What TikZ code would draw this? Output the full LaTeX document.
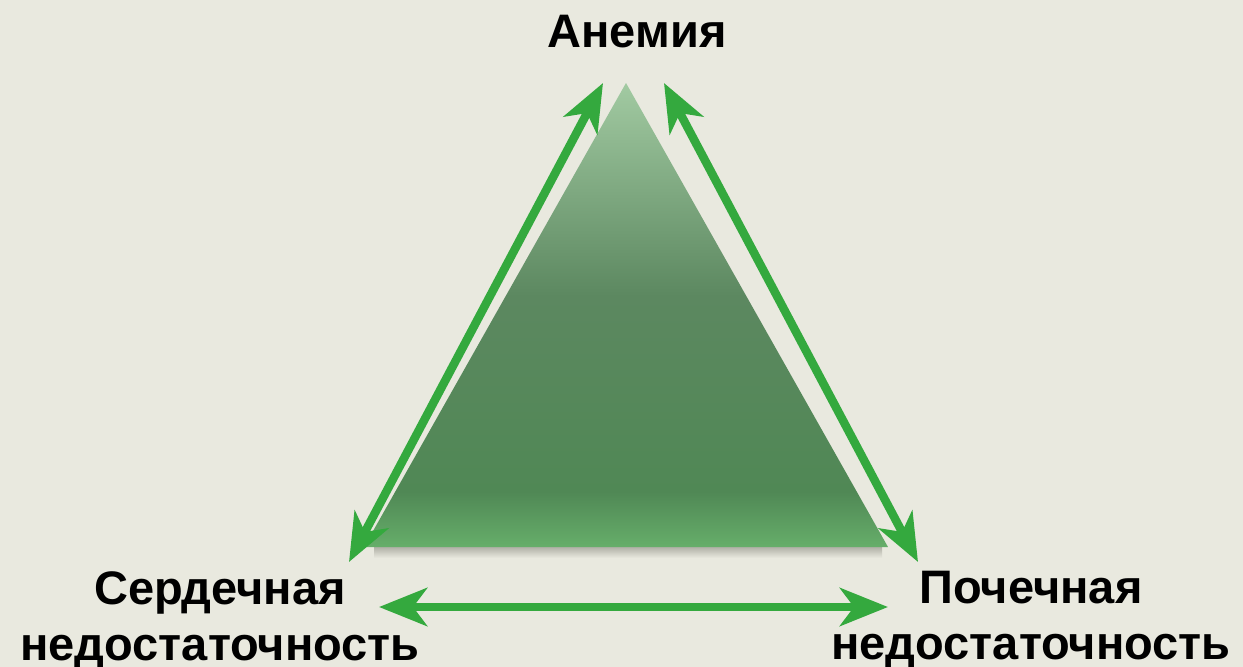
\documentclass[tikz,border=0pt]{standalone}
\usepackage{fontspec}
\setmainfont{Liberation Sans}
\usepackage{tikz}
\usetikzlibrary{arrows.meta, positioning}

\definecolor{bgcol}{RGB}{233,233,223}
\definecolor{arrgreen}{RGB}{52,169,62}
\definecolor{trilow}{RGB}{102,174,106}
\definecolor{trimid}{RGB}{80,136,85}
\definecolor{trimidtop}{RGB}{92,136,96}
\definecolor{trihigh}{RGB}{162,202,162}
\definecolor{shadowcol}{RGB}{172,172,162}

\pgfdeclareverticalshading{trishade}{100bp}{color(0bp)=(trilow); color(25bp)=(trilow); color(31bp)=(trimid); color(52bp)=(trimidtop); color(75bp)=(trihigh); color(100bp)=(trihigh)}

\begin{document}
\begin{tikzpicture}[
        x=1pt, y=-1pt,
        label/.style={font=\fontsize{47}{56}\selectfont\bfseries, text=black, align=center, inner sep=0pt},
        link/.style={{Stealth[length=48pt, width=38pt, inset=14pt]}-{Stealth[length=48pt, width=38pt, inset=14pt]}, line width=8.5pt, arrgreen}
    ]
    % --- Background ---
    \fill[bgcol] (0,0) rectangle (1243,667);
    \useasboundingbox (0,0) rectangle (1243,667);

    % --- Triangle ---
    \coordinate (top) at (626,83);
    \coordinate (left) at (364,547);
    \coordinate (right) at (888,547);
    \shade[top color=shadowcol, bottom color=bgcol] (374,546) rectangle (882,558);
    \shade[shading=trishade] (top) -- (right) -- (left) -- cycle;

    % --- Labels ---
    \node[label, anchor=base] (anemia) at (637,47) {Анемия};
    \node[label, anchor=north] (heart) at (220,571) {Сердечная\\недостаточность};
    \node[label, anchor=north] (kidney) at (1031,571) {Почечная\\недостаточность};

    % --- Arrow ends ---
    \coordinate (a1) at (603,83);
    \coordinate (h1) at (349,562);
    \coordinate (a2) at (664,83);
    \coordinate (k1) at (918,562);
    \coordinate (h2) at (379,607);
    \coordinate (k2) at (888,607);

    % --- Arrows ---
    \draw[link] (h1) -- (a1);
    \draw[link] (a2) -- (k1);
    \draw[link] (h2) -- (k2);
\end{tikzpicture}
\end{document}
